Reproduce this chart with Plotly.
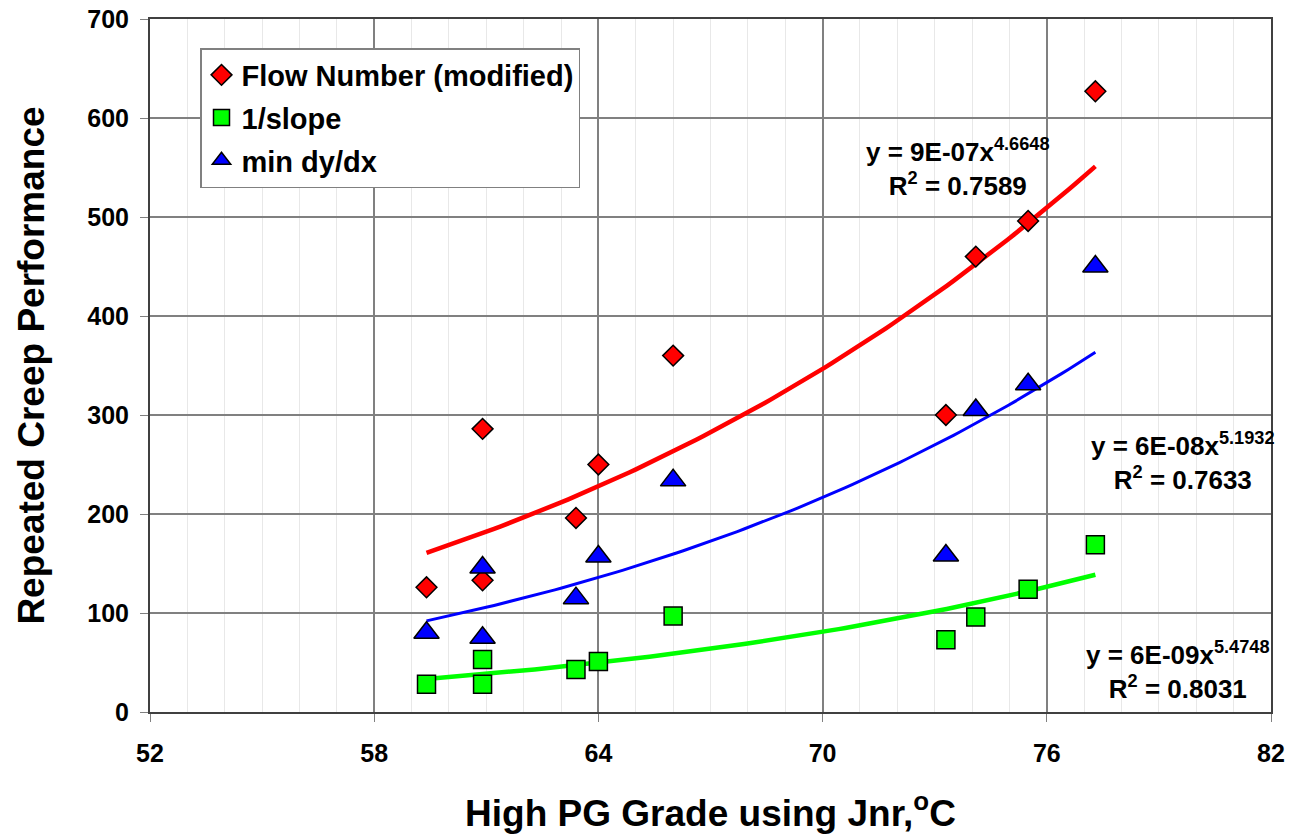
import numpy as np
import plotly.graph_objects as go

# Data
flow_x = [59.4, 60.9, 60.9, 63.4, 64.0, 66.0, 73.3, 74.1, 75.5, 77.3]
flow_y = [126, 286, 133, 196, 250, 360, 300, 460, 496, 627]

slope_x = [59.4, 60.9, 60.9, 63.4, 64.0, 66.0, 73.3, 74.1, 75.5, 77.3]
slope_y = [28, 53, 28, 43, 51, 97, 73, 96, 124, 169]

dydx_x = [59.4, 60.9, 60.9, 63.4, 64.0, 66.0, 73.3, 74.1, 75.5, 77.3]
dydx_y = [80, 146, 75, 115, 157, 234, 158, 305, 331, 450]

x_ticks = [52, 58, 64, 70, 76, 82]
y_ticks = [0, 100, 200, 300, 400, 500, 600, 700]

eq_labels = [
    ("y = 9E-07x<sup>4.6648</sup>", "R<sup>2</sup> = 0.7589"),
    ("y = 6E-08x<sup>5.1932</sup>", "R<sup>2</sup> = 0.7633"),
    ("y = 6E-09x<sup>5.4748</sup>", "R<sup>2</sup> = 0.8031"),
]

FAM = "Arial, Liberation Sans, sans-serif"

W, H = 1293, 835
PL, PR, PT, PB = 150, 1271, 19, 712  # desired plot area in screen pixels


def power_fit(xs, ys):
    b, lna = np.polyfit(np.log(xs), np.log(ys), 1)
    xx = np.linspace(min(xs), max(xs), 100)
    return xx, np.exp(lna) * xx ** b


fig = go.Figure()

series = [
    ("Flow Number (modified)", flow_x, flow_y, "diamond", "#FF0000", 16, 4.5),
    ("1/slope", slope_x, slope_y, "square", "#00FF00", 18, 4.5),
    ("min dy/dx", dydx_x, dydx_y, "triangle-up", "#0000FF", 22, 3),
]

for name, xs, ys, sym, col, size, lw in series:
    tx, ty = power_fit(xs, ys)
    fig.add_trace(go.Scatter(x=tx, y=ty, mode="lines", line=dict(color=col, width=lw),
                             showlegend=False, hoverinfo="skip"))

for i, (name, xs, ys, sym, col, size, lw) in enumerate(series):
    fig.add_trace(go.Scatter(x=xs, y=ys, mode="markers", name=name, legendgroup=f"g{i}",
                             marker=dict(symbol=sym, size=size, color=col,
                                         line=dict(color="black", width=1.5))))


def px2paper(px, py):
    return (px - PL) / (PR - PL), 1 - (py - PT) / (PB - PT)


ann_pos = [(958, 168), (1183, 461), (1178, 670)]
for (px, py), (l1, l2) in zip(ann_pos, eq_labels):
    ax, ay = px2paper(px, py)
    fig.add_annotation(x=ax, y=ay, xref="paper", yref="paper",
                       xanchor="center", yanchor="middle",
                       text=f"<b>{l1}</b><br><b>{l2}</b>",
                       showarrow=False, align="center",
                       font=dict(size=26, family=FAM, color="black"))

lx, ly = px2paper(200, 48)
fig.update_layout(
    width=W, height=H, autosize=False,
    paper_bgcolor="white", plot_bgcolor="white",
    margin=dict(l=PL, r=W - PR, t=PT, b=H - PB, autoexpand=False),
    font=dict(family=FAM, color="black", size=16),
    legend=dict(x=lx, y=ly, xanchor="left", yanchor="top",
                bgcolor="white", bordercolor="#808080", borderwidth=1.5,
                font=dict(size=29, family=FAM, color="black", weight="bold"),
                itemsizing="trace", tracegroupgap=2),
    showlegend=True,
)

fig.update_xaxes(range=[52, 82], tickvals=x_ticks, ticktext=[str(v) for v in x_ticks],
                 automargin=False,
                 showgrid=True, gridcolor="#808080", gridwidth=1.5,
                 minor=dict(dtick=1, showgrid=True, gridcolor="#E8E8E8", gridwidth=1),
                 showline=True, linecolor="#404040", linewidth=2, mirror=True,
                 ticks="outside", ticklen=8, tickcolor="#808080", ticklabelstandoff=10,
                 tickfont=dict(size=25, family=FAM, color="black", weight="bold"),
                 title=dict(text="<b>High PG Grade using Jnr,<sup>o</sup>C</b>",
                            font=dict(size=37, family=FAM, color="black"), standoff=34),
                 zeroline=False)
fig.update_yaxes(range=[0, 700], tickvals=y_ticks, ticktext=[str(v) for v in y_ticks],
                 automargin=False,
                 showgrid=True, gridcolor="#808080", gridwidth=1.5,
                 showline=True, linecolor="#404040", linewidth=2, mirror=True,
                 ticks="outside", ticklen=8, tickcolor="#808080", ticklabelstandoff=6,
                 tickfont=dict(size=25, family=FAM, color="black", weight="bold"),
                 title=dict(text="<b>Repeated Creep Performance</b>",
                            font=dict(size=37, family=FAM, color="black"), standoff=31),
                 zeroline=False)

fig.write_html("out.html", config={"displayModeBar": False},
               post_script="document.body.style.margin='0';")
